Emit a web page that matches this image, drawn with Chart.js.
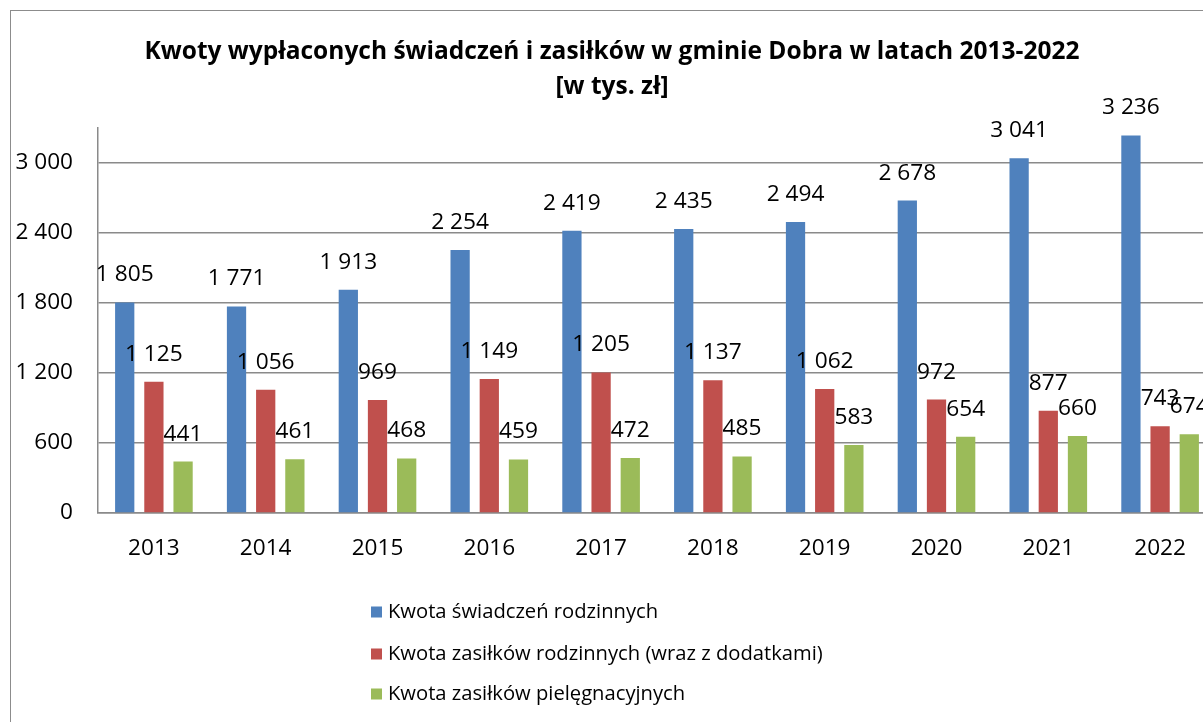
<!DOCTYPE html>
<html>
<head>
<meta charset="utf-8">
<script src="https://cdn.jsdelivr.net/npm/chart.js@4.4.1/dist/chart.umd.min.js"></script>
<style>
  html, body { margin: 0; padding: 0; background: #ffffff; overflow: hidden; width: 1203px; height: 722px; }
  #frame { position: absolute; left: 10px; top: 10px; width: 1240px; height: 800px; border: 1.5px solid #8c8c8c; box-sizing: border-box; }
  #wrap { position: absolute; left: 0; top: 0; width: 1224px; height: 722px; }
</style>
</head>
<body>
<div id="frame"></div>
<div id="wrap"><canvas id="c"></canvas></div>
<script>
const years = ['2013','2014','2015','2016','2017','2018','2019','2020','2021','2022'];
const swiadczeniaRodzinne = [1805, 1771, 1913, 2254, 2419, 2435, 2494, 2678, 3041, 3236];
const zasilkiRodzinne = [1125, 1056, 969, 1149, 1205, 1137, 1062, 972, 877, 743];
const zasilkiPielegnacyjne = [441, 461, 468, 459, 472, 485, 583, 654, 660, 674];
const seriesLabels = ['Kwota świadczeń rodzinnych', 'Kwota zasiłków rodzinnych (wraz z dodatkami)', 'Kwota zasiłków pielęgnacyjnych'];
const seriesColors = ['#4F81BD', '#C0504D', '#9BBB59'];
const titleLines = ['Kwoty wypłaconych świadczeń i zasiłków w gminie Dobra w latach 2013-2022', '[w tys. zł]'];
const yTicks = [0, 600, 1200, 1800, 2400, 3000];
const yMax = 3300;

const FONT = "'Open Sans', 'Liberation Sans', sans-serif";
const fmt = v => String(v).replace(/\B(?=(\d{3})+(?!\d))/g, ' ');

const valueLabels = {
  id: 'valueLabels',
  afterDatasetsDraw(chart) {
    const ctx = chart.ctx;
    ctx.save();
    ctx.font = '22.7px ' + FONT;
    ctx.fillStyle = '#000';
    ctx.textAlign = 'center';
    ctx.textBaseline = 'middle';
    chart.data.datasets.forEach((ds, i) => {
      const meta = chart.getDatasetMeta(i);
      meta.data.forEach((el, j) => {
        ctx.fillText(fmt(ds.data[j]), el.x, el.y - 27.5);
      });
    });
    ctx.restore();
  }
};

const customLegend = {
  id: 'customLegend',
  afterDraw(chart) {
    const ctx = chart.ctx;
    const base = chart.chartArea.bottom;
    const rows = [99, 141, 181];
    ctx.save();
    ctx.font = '20.2px ' + FONT;
    ctx.textAlign = 'left';
    ctx.textBaseline = 'middle';
    chart.data.datasets.forEach((ds, i) => {
      const y = base + rows[i];
      ctx.fillStyle = ds.backgroundColor;
      ctx.fillRect(371, y - 5.5, 11, 11);
      ctx.fillStyle = '#000';
      ctx.fillText(ds.label, 388, y);
    });
    ctx.restore();
  }
};

const datasets = [swiadczeniaRodzinne, zasilkiRodzinne, zasilkiPielegnacyjne].map((d, i) => ({
  label: seriesLabels[i],
  data: d,
  backgroundColor: seriesColors[i],
  borderWidth: 0,
  barPercentage: 0.66,
  categoryPercentage: 0.783
}));

new Chart(document.getElementById('c'), {
  type: 'bar',
  data: { labels: years, datasets },
  options: {
    responsive: true,
    maintainAspectRatio: false,
    animation: false,
    layout: { padding: { left: 0, right: 0, top: 0, bottom: 163 } },
    plugins: {
      legend: { display: false },
      tooltip: { enabled: false },
      title: {
        display: true,
        text: titleLines,
        color: '#000',
        font: { family: FONT, size: 24.5, weight: 'bold', lineHeight: '35px' },
        padding: { top: 34.5, bottom: 23.5 }
      }
    },
    scales: {
      x: {
        offset: true,
        grid: { display: false, drawTicks: false },
        border: { display: true, color: '#8a8a8a', width: 1.5 },
        ticks: { color: '#000', font: { family: FONT, size: 22.6 }, padding: 22, maxRotation: 0 },
        afterFit(s) { s.height = 46; }
      },
      y: {
        min: 0,
        max: yMax,
        grid: { color: '#8a8a8a', lineWidth: 1.5, drawTicks: false },
        border: { display: true, color: '#8a8a8a', width: 1.5 },
        ticks: { color: '#000', font: { family: FONT, size: 22.6 }, padding: 25, callback: v => fmt(v) },
        afterBuildTicks(s) { s.ticks = yTicks.map(v => ({ value: v })); },
        afterFit(s) { s.width = 98; }
      },
      yRight: {
        position: 'right',
        min: 0, max: 1,
        grid: { display: false, drawTicks: false },
        border: { display: false },
        ticks: { display: false },
        afterFit(s) { s.width = 8; }
      }
    }
  },
  plugins: [valueLabels, customLegend]
});
</script>
</body>
</html>
